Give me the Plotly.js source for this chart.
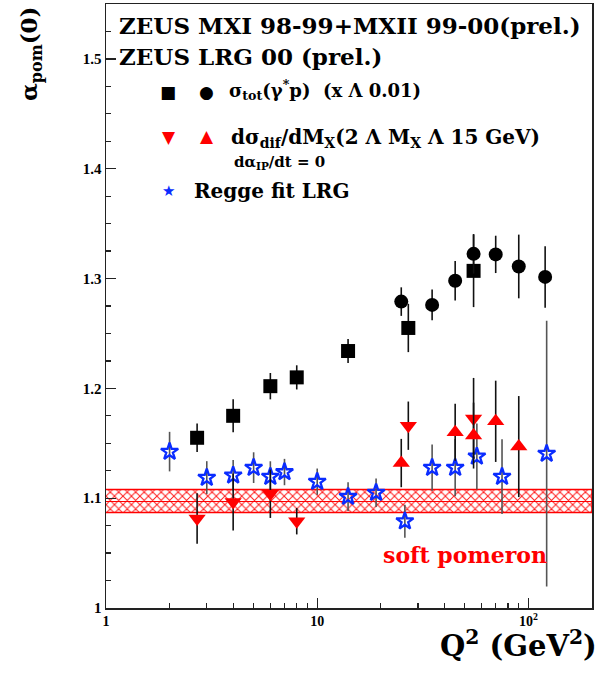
<!DOCTYPE html>
<html>
<head>
<meta charset="utf-8">
<script src="https://cdn.plot.ly/plotly-3.0.1.min.js"></script>
<style>
html,body{margin:0;padding:0;background:#fff;}
#chart{width:604px;height:678px;}
</style>
</head>
<body>
<div id="chart"></div>
<script>
// ---- data ----
// sigma_tot(gamma* p), ZEUS MXI 98-99 (squares)
var mxiQ2 = [2.7, 4, 6, 8, 14, 27, 55];
var mxiAlpha = [1.155, 1.175, 1.202, 1.210, 1.234, 1.255, 1.307];
var mxiErr = [0.013, 0.015, 0.012, 0.011, 0.011, 0.022, 0.033];
// sigma_tot(gamma* p), ZEUS MXII 99-00 (circles)
var mxiiQ2 = [25, 35, 45, 55, 70, 90, 120];
var mxiiAlpha = [1.279, 1.276, 1.298, 1.3225, 1.322, 1.311, 1.3015];
var mxiiErr = [0.013, 0.014, 0.018, 0.018, 0.017, 0.029, 0.028];
// dsigma_dif/dMx, MXI (down triangles)
var mxiDiffQ2 = [2.7, 4, 6, 8, 27, 55];
var mxiDiffAlpha = [1.0816, 1.0965, 1.104, 1.079, 1.166, 1.1725];
var mxiDiffErr = [0.023, 0.026, 0.022, 0.012, 0.022, 0.037];
// dsigma_dif/dMx, MXII (up triangles)
var mxiiDiffQ2 = [25, 45, 55, 70, 90];
var mxiiDiffAlpha = [1.132, 1.160, 1.157, 1.170, 1.147];
var mxiiDiffErr = [0.022, 0.026, 0.030, 0.037, 0.046];
// Regge fit LRG (stars)
var reggeQ2 = [2, 3, 4, 5, 6, 7, 10, 14, 19, 26, 35, 45, 57, 75, 122];
var reggeAlpha = [1.1424, 1.1187, 1.1208, 1.1278, 1.1196, 1.1238, 1.115, 1.1014, 1.105, 1.079, 1.1278, 1.1278, 1.138, 1.1196, 1.1406];
var reggeErr = [0.018, 0.015, 0.014, 0.014, 0.014, 0.012, 0.012, 0.013, 0.013, 0.015, 0.021, 0.026, 0.030, 0.034, 0.121];
// soft pomeron band
var softQ2 = [1, 200];
var softLow = 1.087, softCentre = 1.097, softHigh = 1.108;
// axis ticks
var xTickVals = [1, 10, 100];
var xTickText = ['1', '10', '10<sup>2</sup>'];
var xMinorVals = [2,3,4,5,6,7,8,9,20,30,40,50,60,70,80,90,200];
var yTickVals = [1, 1.1, 1.2, 1.3, 1.4, 1.5];
var yTickText = ['1', '1.1', '1.2', '1.3', '1.4', '1.5'];

// ---- layout helpers ----
var L = 106, R = 592, T = 4, B = 608, W = 604, H = 678;
function px(x){ return (x - L) / (R - L); }
function py(y){ return (B - y) / (B - T); }
var SERIF = 'Liberation Serif, Times New Roman, serif';
var WIDE = 'DejaVu Serif, serif';

function errTrace(x, y, e, sym, col, size, ecol, lw){
  return {
    type: 'scatter', mode: 'markers', x: x, y: y,
    error_y: {type: 'data', array: e, visible: true, color: ecol || '#111', thickness: 1.6, width: 0},
    marker: {symbol: sym, color: col, size: size, line: {width: lw || 0, color: col}},
    showlegend: false, hoverinfo: 'skip'
  };
}

var bandX = softQ2.concat(softQ2.slice().reverse());
var bandY = [softLow, softLow, softHigh, softHigh];

var traces = [
  {type:'scatter', mode:'lines', x: bandX, y: bandY, fill:'toself',
   fillcolor:'rgba(255,255,255,0)',
   fillpattern:{shape:'x', fgcolor:'#ff1a1a', bgcolor:'rgba(255,255,255,0)', size:6, solidity:0.3},
   line:{color:'#ff0000', width:1.5}, showlegend:false, hoverinfo:'skip'},
  {type:'scatter', mode:'lines', x: softQ2, y:[softCentre, softCentre],
   line:{color:'#ff0000', width:1.2}, showlegend:false, hoverinfo:'skip'},
  errTrace(reggeQ2, reggeAlpha, reggeErr, 'star-open', '#0a2cff', 13, '#555', 2.3),
  errTrace(mxiDiffQ2, mxiDiffAlpha, mxiDiffErr, 'triangle-down', '#ff0000', 15),
  errTrace(mxiiDiffQ2, mxiiDiffAlpha, mxiiDiffErr, 'triangle-up', '#ff0000', 15),
  errTrace(mxiQ2, mxiAlpha, mxiErr, 'square', '#000000', 14),
  errTrace(mxiiQ2, mxiiAlpha, mxiiErr, 'circle', '#000000', 14)
];

function ann(text, x, y, size, opts){
  var a = {xref:'paper', yref:'paper', x: px(x), y: py(y), text: text, showarrow:false,
    xanchor:'left', yanchor:'middle',
    font:{family: WIDE, size: size, color:'#000', weight: 700}};
  if (opts) for (var k in opts) a[k] = opts[k];
  return a;
}
function glyph(ch, x, y, size, col){
  return {xref:'paper', yref:'paper', x: px(x), y: py(y), text: ch, showarrow:false,
    xanchor:'center', yanchor:'middle', font:{family:'DejaVu Sans', size:size, color:col}};
}

var annotations = [
  ann('ZEUS MXI 98-99+MXII 99-00(prel.)', 117, 26, 23),
  ann('ZEUS LRG 00 (prel.)', 117, 56, 23),
  glyph('■', 168, 92, 17, '#000'),
  glyph('●', 206, 92, 17, '#000'),
  ann('σ<sub>tot</sub>(γ<sup>*</sup>p)  (x Λ 0.01)', 227, 90, 18),
  glyph('▼', 169, 137, 17, '#ff0000'),
  glyph('▲', 207, 136, 17, '#ff0000'),
  ann('dσ<sub>dif</sub>/dM<sub>X</sub>(2 Λ M<sub>X</sub> Λ 15 GeV)', 229, 138, 20),
  ann('dα<sub>IP</sub>/dt = 0', 232, 162, 15),
  glyph('★', 168, 191, 15, '#0a2cff'),
  ann('Regge fit LRG', 192, 191, 20),
  ann('soft pomeron', 465, 555, 22, {xanchor:'center', font:{family:WIDE, size:22, color:'#ff0000', weight:700}}),
  {xref:'paper', yref:'paper', x: px(31), y: py(54), text:'α<sub>pom</sub>(0)', showarrow:false,
   textangle:-90, xanchor:'center', yanchor:'middle', font:{family:WIDE, size:23, color:'#000', weight:700}},
  ann('Q<sup>2</sup> (GeV<sup>2</sup>)', 599, 644, 29, {xanchor:'right'})
];

var layout = {
  width: W, height: H,
  margin: {l: L, r: W - R, t: T, b: H - B, pad: 0},
  paper_bgcolor: '#ffffff', plot_bgcolor: '#ffffff',
  showlegend: false,
  xaxis: {
    type:'log', range:[0, Math.log10(200)],
    showgrid:false, zeroline:false,
    showline:true, linecolor:'#222', linewidth:1.5, mirror:true,
    ticks:'inside', ticklen:10, tickwidth:1.2, tickcolor:'#222',
    tickmode:'array', tickvals: xTickVals, ticktext: xTickText,
    tickfont:{family: SERIF, size: 14, color:'#000', weight:700},
    minor:{tickmode:'array', tickvals: xMinorVals, ticks:'inside', ticklen:5, tickwidth:1.2, tickcolor:'#222', showgrid:false}
  },
  yaxis: {
    range:[1, 1.55],
    showgrid:false, zeroline:false,
    showline:true, linecolor:'#222', linewidth:1.5, mirror:true,
    ticks:'inside', ticklen:10, tickwidth:1.2, tickcolor:'#222',
    tickmode:'array', tickvals: yTickVals, ticktext: yTickText,
    tickfont:{family: SERIF, size: 15, color:'#000', weight:700},
    minor:{dtick:0.025, tick0:1, ticks:'inside', ticklen:5, tickwidth:1.2, tickcolor:'#222', showgrid:false}
  },
  annotations: annotations
};

Plotly.newPlot('chart', traces, layout, {displayModeBar:false, staticPlot:true});
</script>
</body>
</html>
